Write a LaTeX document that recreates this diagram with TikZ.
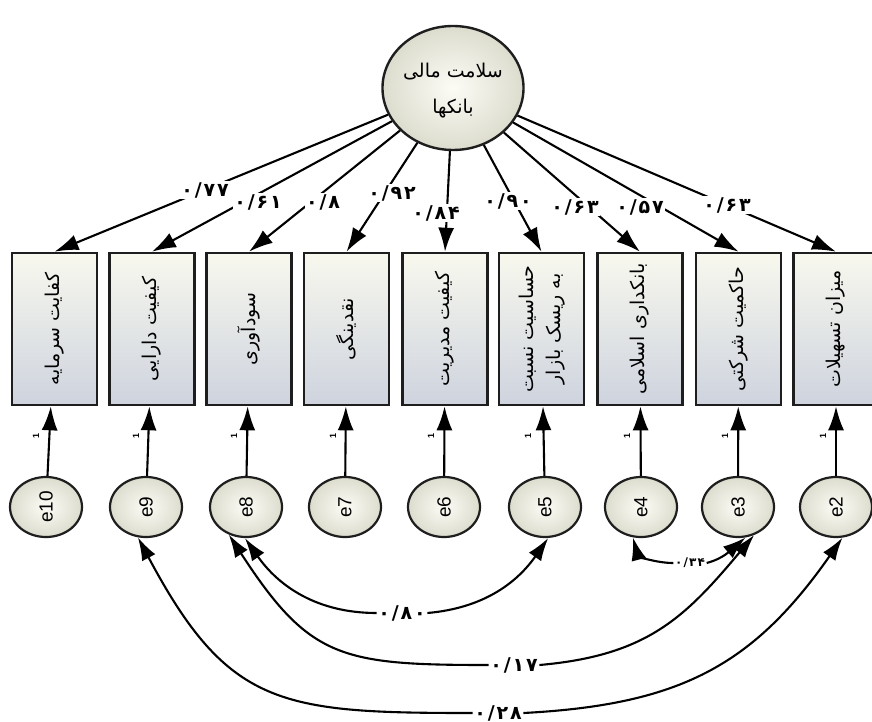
\documentclass[tikz,border=0pt]{standalone}
\usepackage{fontspec}
\usepackage{graphicx}
\setmainfont{Liberation Sans}
\newfontfamily\fa[Script=Arabic]{DejaVu Sans}
\newfontfamily\fanum[Script=Arabic,LetterSpace=10]{DejaVu Sans}
\TeXXeTstate=1
\usetikzlibrary{shapes.geometric,arrows.meta}
\definecolor{boxtop}{RGB}{248,248,238}
\definecolor{boxbot}{RGB}{206,211,222}
\definecolor{errin}{RGB}{252,252,246}
\definecolor{errout}{RGB}{220,220,206}
\definecolor{edge}{RGB}{30,30,30}
\tikzset{
  obs/.style={draw=edge, line width=2.6pt, minimum width=85pt, minimum height=152pt, inner sep=0pt,
    top color=boxtop, bottom color=boxbot, font=\fa\fontsize{19}{27}\selectfont},
  err/.style={ellipse, draw=edge, line width=2.2pt, minimum width=72pt, minimum height=60pt, inner sep=0pt,
    inner color=errin, outer color=errout, font=\fontsize{19}{19}\selectfont},
  lat/.style={ellipse, draw=edge, line width=2.4pt, minimum width=137pt, minimum height=124pt, inner sep=0pt,
    inner color=errin, outer color=errout, font=\fa\fontsize{19}{36}\selectfont},
  reg/.style={line width=2.1pt, -{Latex[length=24pt,width=16pt]}},
  covl/.style={line width=2.1pt, {Latex[length=23pt,width=15pt]}-},
  covr/.style={line width=2.1pt, -{Latex[length=23pt,width=15pt]}},
  coef/.style={fill=white, inner sep=1.5pt, font=\fanum\bfseries\fontsize{19}{19}\selectfont},
  onelab/.style={font=\bfseries\fontsize{9}{9}\selectfont, inner sep=0pt},
}
\begin{document}
\begin{tikzpicture}[x=1pt,y=-1pt]
\useasboundingbox (0,0) rectangle (872,722);
% latent
\node[lat] (F) at (453,88) {\raisebox{-7pt}{\begin{tabular}{@{}c@{}}\beginR سلامت مالی\endR\\\beginR بانکها\endR\end{tabular}}};
% indicators
\node[obs] (b1) at (54.5,329) {\rotatebox{90}{\beginR کفایت سرمایه\endR}};
\node[obs] (b2) at (152,329) {\rotatebox{90}{\beginR کیفیت دارایی\endR}};
\node[obs] (b3) at (249,329) {\rotatebox{90}{\beginR سودآوری\endR}};
\node[obs] (b4) at (346.5,329) {\rotatebox{90}{\beginR نقدینگی\endR}};
\node[obs] (b5) at (445,329) {\rotatebox{90}{\beginR کیفیت مدیریت\endR}};
\node[obs] (b6) at (541.5,329) {\rotatebox{90}{\begin{tabular}{@{}c@{}}\beginR حساسیت نسبت\endR\\\beginR به ریسک بازار\endR\end{tabular}}};
\node[obs] (b7) at (640,329) {\rotatebox{90}{\beginR بانکداری اسلامی\endR}};
\node[obs] (b8) at (738.5,329) {\rotatebox{90}{\beginR حاکمیت شرکتی\endR}};
\node[obs] (b9) at (836,329) {\rotatebox{90}{\beginR میزان تسهیلات\endR}};
% errors
\node[err] (e10) at (46,507) {\rotatebox{90}{e10}};
\node[err] (e9) at (146,507) {\rotatebox{90}{e9}};
\node[err] (e8) at (246,507) {\rotatebox{90}{e8}};
\node[err] (e7) at (345,507) {\rotatebox{90}{e7}};
\node[err] (e6) at (444,507) {\rotatebox{90}{e6}};
\node[err] (e5) at (545,507) {\rotatebox{90}{e5}};
\node[err] (e4) at (641,507) {\rotatebox{90}{e4}};
\node[err] (e3) at (738,507) {\rotatebox{90}{e3}};
\node[err] (e2) at (836,507) {\rotatebox{90}{e2}};
% loadings
\foreach \b in {b1,b2,b3,b4,b5,b6,b7,b8,b9}{\draw[reg] (F) -- (\b.north);}
% error paths
\draw[reg] (e10) -- (b1);
\draw[reg] (e9) -- (b2);
\draw[reg] (e8) -- (b3);
\draw[reg] (e7) -- (b4);
\draw[reg] (e6) -- (b5);
\draw[reg] (e5) -- (b6);
\draw[reg] (e4) -- (b7);
\draw[reg] (e3) -- (b8);
\draw[reg] (e2) -- (b9);
% ones
\node[onelab] (o1) at (36,436) {\rotatebox{90}{1}};
\node[onelab] (o2) at (136,436) {\rotatebox{90}{1}};
\node[onelab] (o3) at (234,436) {\rotatebox{90}{1}};
\node[onelab] (o4) at (333,436) {\rotatebox{90}{1}};
\node[onelab] (o5) at (431,436) {\rotatebox{90}{1}};
\node[onelab] (o6) at (528,436) {\rotatebox{90}{1}};
\node[onelab] (o7) at (627,436) {\rotatebox{90}{1}};
\node[onelab] (o8) at (725,436) {\rotatebox{90}{1}};
\node[onelab] (o9) at (823,436) {\rotatebox{90}{1}};
% loading labels
\node[coef] (l1) at (205,190) {۰/۷۷};
\node[coef] (l2) at (258,202) {۰/۶۱};
\node[coef] (l3) at (323,202) {۰/۸};
\node[coef] (l4) at (392,193) {۰/۹۲};
\node[coef] (l5) at (436,213) {۰/۸۴};
\node[coef] (l6) at (508,201) {۰/۹۰};
\node[coef] (l7) at (575,207) {۰/۶۳};
\node[coef] (l8) at (640,207) {۰/۵۷};
\node[coef] (l9) at (727,205) {۰/۶۳};
% covariance labels
\node[coef] (m80) at (402,613) {۰/۸۰};
\node[coef] (m17) at (514,665) {۰/۱۷};
\node[coef] (m28) at (498,713) {۰/۲۸};
\node[coef, font=\fanum\bfseries\fontsize{12}{12}\selectfont] (m34) at (690,563) {۰/۳۴};
% covariances
\draw[covl] (e8.268) to[out=-55,in=180] (m80.west);
\draw[covr] (m80.east) to[out=5,in=-125] (e5.276);
\draw[covl] (e8.238) to[out=-57,in=180,looseness=1.3] (m17.west);
\draw[covr] (m17.east) to[out=5,in=-130,looseness=1.1] (e3.300);
\draw[covl] (e9.255) to[out=-62,in=180,looseness=1.3] (m28.west);
\draw[covr] (m28.east) to[out=3,in=-125,looseness=1.1] (e2.282);
\draw[covl] (e4.255) to[out=-75,in=180] (m34.west);
\draw[covr] (m34.east) to[out=15,in=-140] (e3.284);
\end{tikzpicture}
\end{document}
